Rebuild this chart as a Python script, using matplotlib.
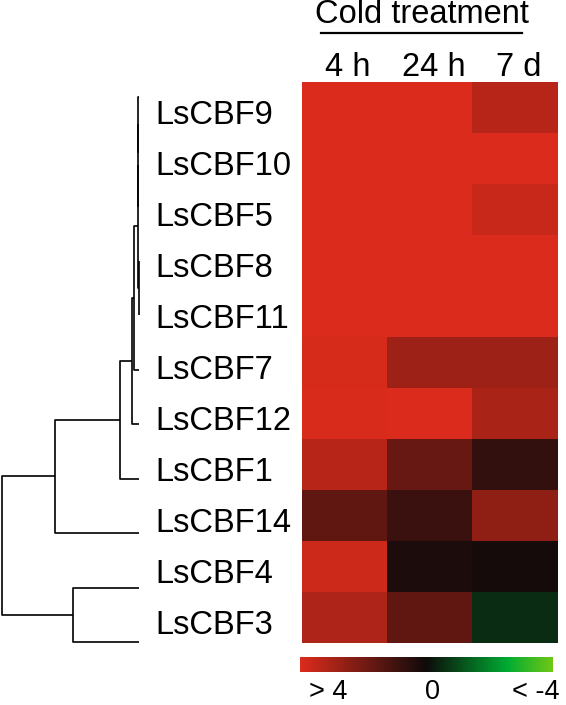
import matplotlib
matplotlib.use('Agg')
import numpy as np
import matplotlib.pyplot as plt
import matplotlib.transforms as mtransforms
from matplotlib.colors import LinearSegmentedColormap, Normalize
from matplotlib.colorbar import ColorbarBase

plt.rcParams['font.family'] = ['Liberation Sans', 'DejaVu Sans']

genes = ['LsCBF9', 'LsCBF10', 'LsCBF5', 'LsCBF8', 'LsCBF11', 'LsCBF7',
         'LsCBF12', 'LsCBF1', 'LsCBF14', 'LsCBF4', 'LsCBF3']
timepoints = ['4 h', '24 h', '7 d']
# log2 fold change, clipped to +-4
fold_4h = [4.0, 4.0, 4.0, 4.0, 4.0, 3.9, 3.95, 3.3, 1.6, 3.7, 3.15]
fold_24h = [4.0, 4.0, 4.0, 4.0, 4.0, 2.8, 4.0, 1.75, 0.9, 0.3, 1.6]
fold_7d = [3.3, 4.0, 3.6, 4.0, 4.0, 2.8, 3.0, 0.7, 2.5, 0.15, -0.55]

# dendrogram merges: (left, right, height), nodes numbered after the leaves
merges = [(0, 1, 0.004), (11, 2, 0.006), (3, 4, 0.003), (12, 13, 0.008),
          (14, 5, 0.040), (15, 6, 0.051), (16, 7, 0.139), (17, 8, 0.613),
          (9, 10, 0.482), (18, 19, 1.0)]

cbar_labels = ['> 4', '0', '< -4']

W, H = 566, 705
fig = plt.figure(figsize=(W / 100, H / 100), dpi=100)

def px_axes(x0, y0, x1, y1):
    return fig.add_axes([x0 / W, (H - y1) / H, (x1 - x0) / W, (y1 - y0) / H])

cmap = LinearSegmentedColormap.from_list('gr', [
    (0.0, (0.43, 0.78, 0.08)),
    (0.18, (0.0, 0.67, 0.2)),
    (0.5, (0.05, 0.04, 0.04)),
    (1.0, (0.86, 0.17, 0.11)),
])
norm = Normalize(vmin=-4, vmax=4)

# heatmap
ax = px_axes(302, 82, 558, 643)
data = np.array([fold_4h, fold_24h, fold_7d]).T
ax.imshow(data, cmap=cmap, norm=norm, aspect='auto', interpolation='nearest')
ax.set_axis_off()

# row labels
lab_tr = mtransforms.blended_transform_factory(fig.transFigure, ax.transData)
for i, g in enumerate(genes):
    fig.text(155 / W, i + 0.16, g, transform=lab_tr, fontsize=23.5,
             ha='left', va='center')

# column labels and title
col_tr = mtransforms.blended_transform_factory(ax.transData, fig.transFigure)
for j, t in enumerate(timepoints):
    ax.text(j + 0.04, (H - 76) / H, t, transform=col_tr, fontsize=23.5,
            ha='center', va='baseline', clip_on=False)
fig.text(422 / W, (H - 23) / H, 'Cold treatment', fontsize=23.5,
         ha='center', va='baseline')
fig.add_artist(plt.Line2D([321 / W, 522 / W], [(H - 33) / H, (H - 33) / H],
                          transform=fig.transFigure, color='black', lw=1.6))

# dendrogram
dax = px_axes(2, 97, 139, 642)
ypos = {i: float(i) for i in range(len(genes))}
hgt = {i: 0.0 for i in range(len(genes))}
node = len(genes)
for a, b, h in merges:
    dax.plot([hgt[a], h, h, hgt[b]], [ypos[a], ypos[a], ypos[b], ypos[b]],
             color='black', lw=1.2, clip_on=False, solid_capstyle='butt')
    ypos[node] = (ypos[a] + ypos[b]) / 2
    hgt[node] = h
    node += 1
dax.set_xlim(1.0, 0.0)
dax.set_ylim(len(genes) - 1, 0)
dax.set_axis_off()

# colour bar
cax = px_axes(300, 657, 553, 672)
cb = ColorbarBase(cax, cmap=cmap, norm=norm, orientation='horizontal')
cb.outline.set_visible(False)
cax.invert_xaxis()
cax.set_xticks([])
for xp, t in zip([328, 433, 536], cbar_labels):
    fig.text(xp / W, (H - 699) / H, t, fontsize=19.5, ha='center',
             va='baseline')

fig.savefig('out.png', dpi=100)
